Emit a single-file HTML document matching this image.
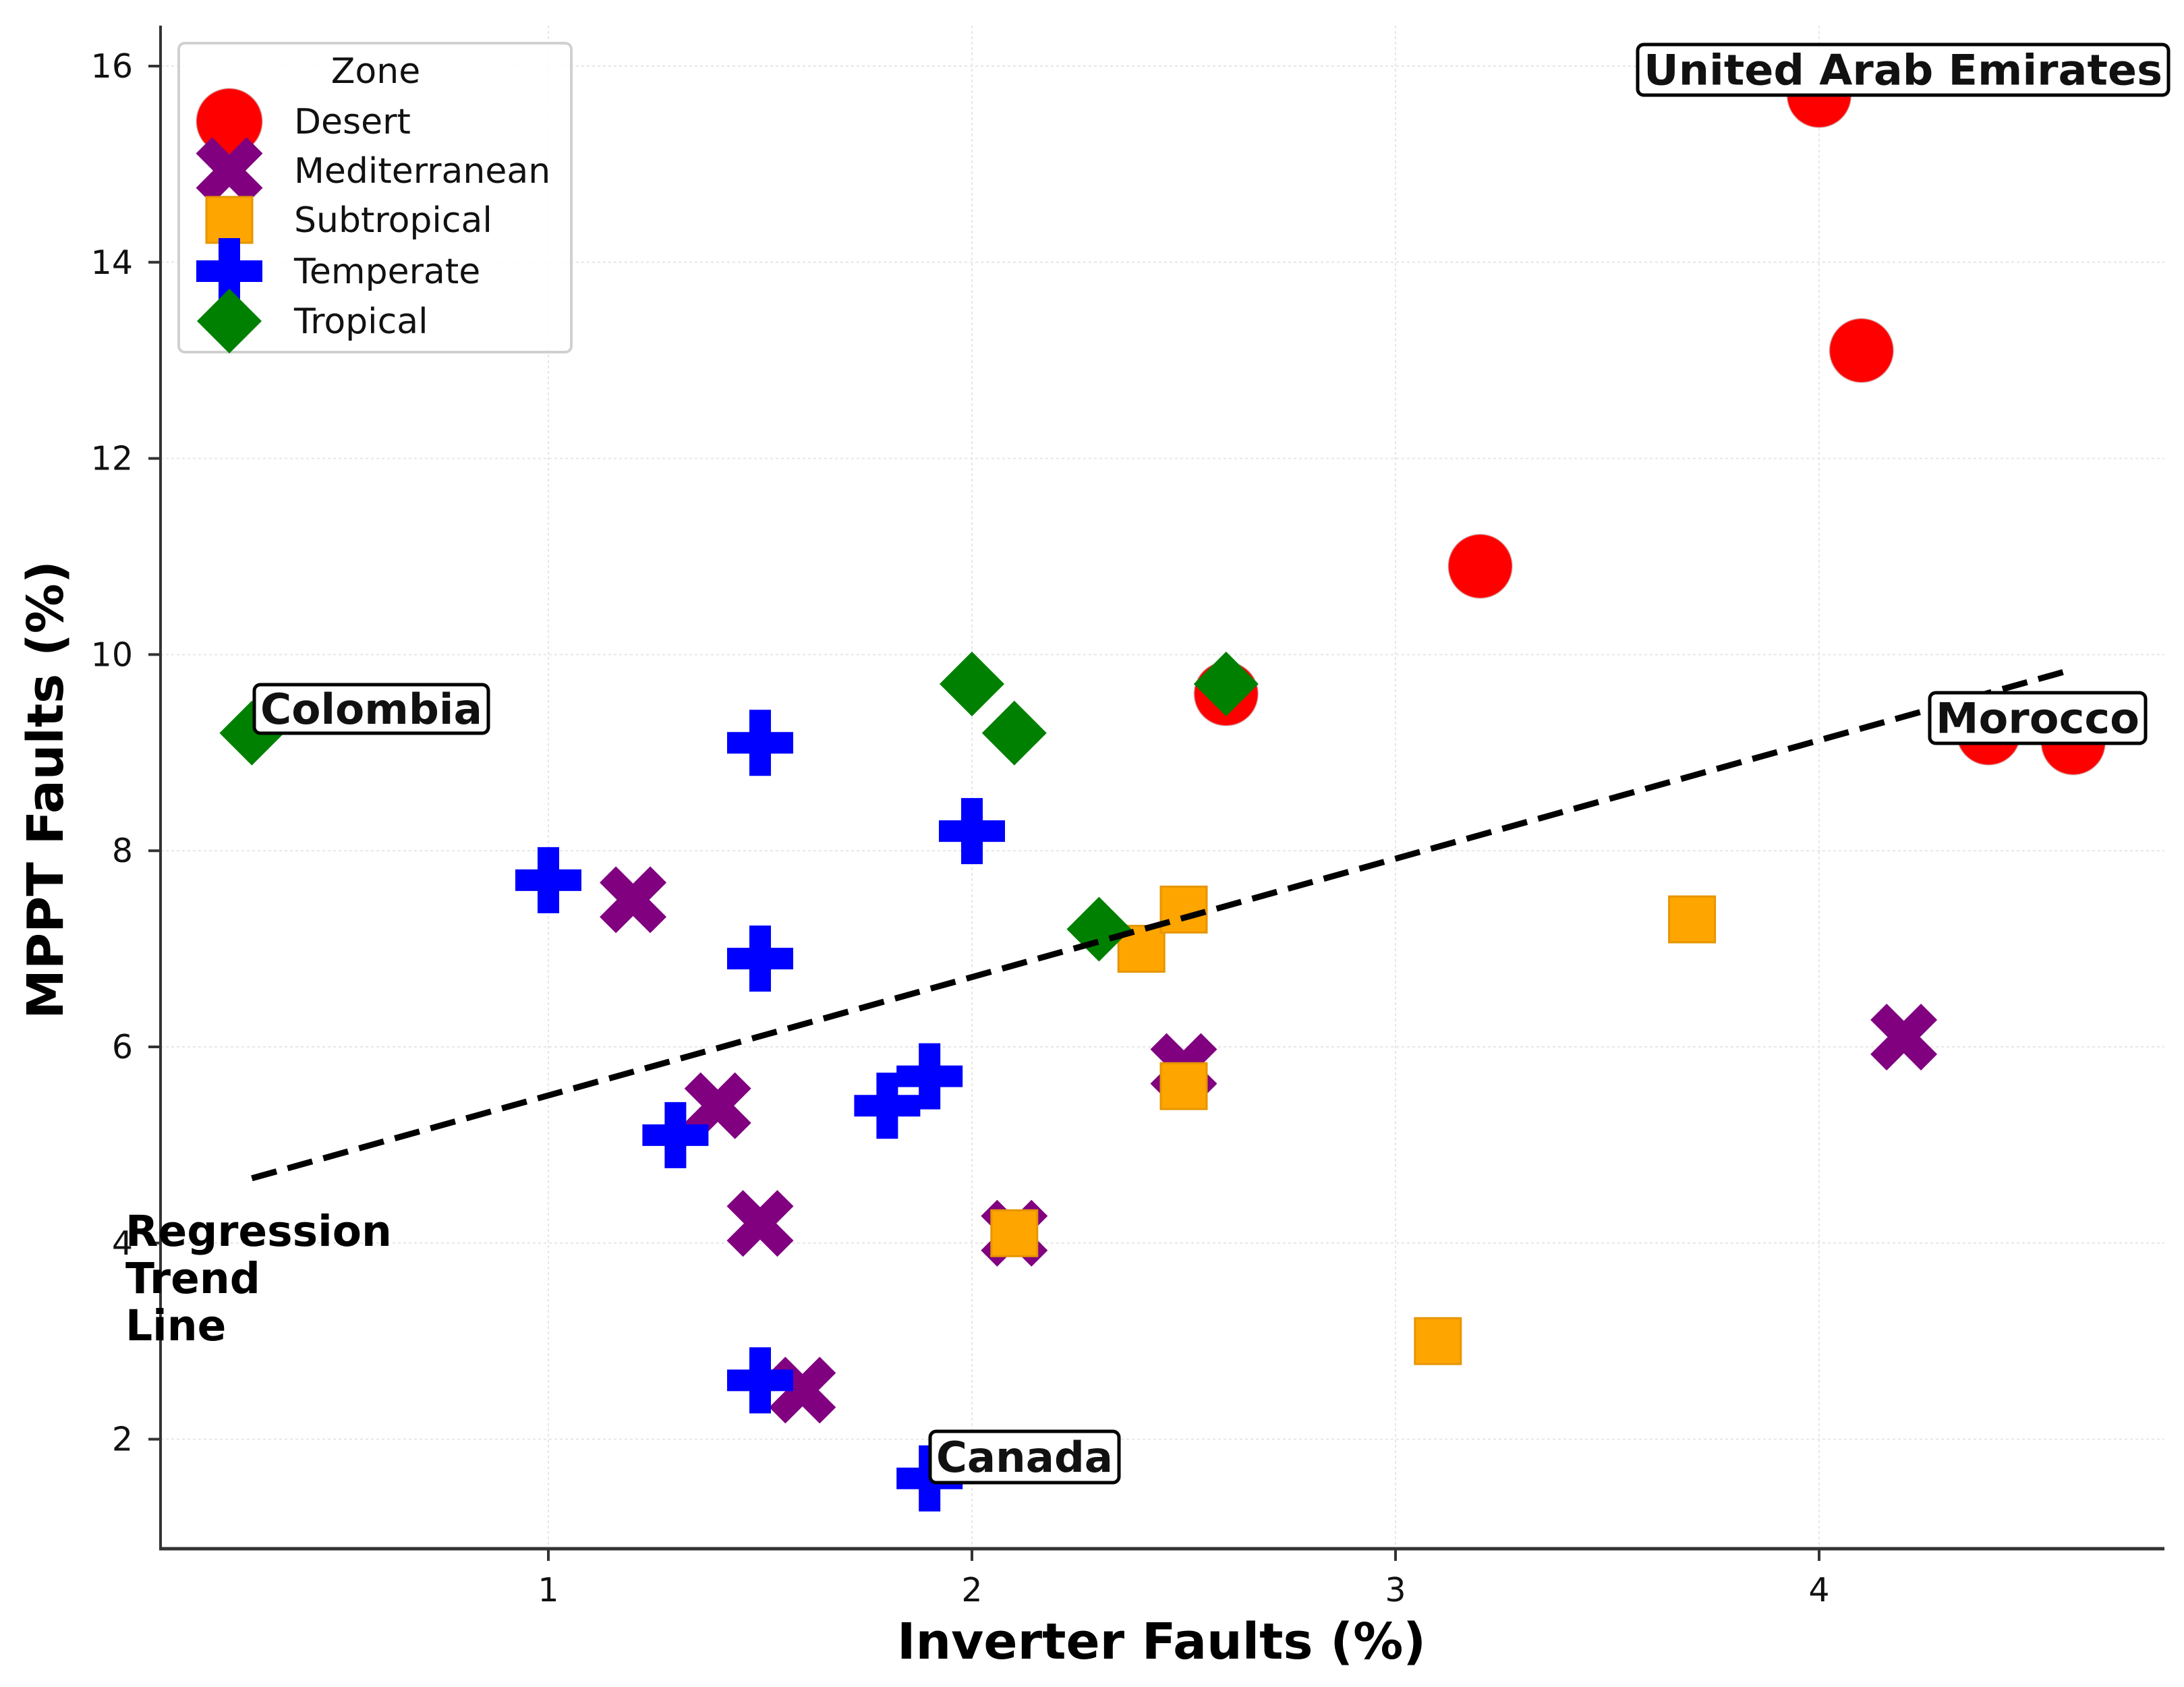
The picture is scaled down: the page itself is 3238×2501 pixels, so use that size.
<!DOCTYPE html>
<html><head><meta charset="utf-8"><style>
html,body{margin:0;padding:0;background:#fff}
svg{display:block}
text{font-family:"DejaVu Sans","Liberation Sans",sans-serif}
</style></head><body>
<svg id="chart" xmlns="http://www.w3.org/2000/svg" width="3238" height="2501" viewBox="0 0 3238 2501">
<rect width="3238" height="2501" fill="#fff"/>
<g id="grid"></g>
<g id="marks"></g>
<g id="axes"></g>
<g id="annots"></g>
<g id="legend"></g>
</svg>
<script>
const xTicks = [1, 2, 3, 4];
const yTicks = [2, 4, 6, 8, 10, 12, 14, 16];
const desertX = [4.0, 4.1, 3.2, 2.6, 4.4, 4.6];
const desertY = [15.7, 13.1, 10.9, 9.6, 9.2, 9.1];
const medX = [1.2, 1.4, 1.5, 1.6, 2.1, 2.5, 4.2];
const medY = [7.5, 5.4, 4.2, 2.5, 4.1, 5.8, 6.1];
const subX = [2.4, 2.5, 2.5, 2.1, 3.1, 3.7];
const subY = [7.0, 7.4, 5.6, 4.1, 3.0, 7.3];
const tempX = [1.0, 1.5, 1.5, 2.0, 1.3, 1.8, 1.9, 1.5, 1.9];
const tempY = [7.7, 9.1, 6.9, 8.2, 5.1, 5.4, 5.7, 2.6, 1.6];
const tropX = [0.3, 2.0, 2.1, 2.6, 2.3];
const tropY = [9.2, 9.7, 9.2, 9.7, 7.2];
const trendX = [0.3, 4.6];
const trendY = [4.66, 9.85];
const zoneNames = ["Desert", "Mediterranean", "Subtropical", "Temperate", "Tropical"];

const NS = "http://www.w3.org/2000/svg";
const L = 238, B = 2296, T = 38, R = 3209;
function X(v){ return 185 + 628 * v; }
function Y(v){ return 98 + (16 - v) * 145.4; }
function mk(tag, attrs, parent){
  const e = document.createElementNS(NS, tag);
  for (const k in attrs) e.setAttribute(k, attrs[k]);
  parent.appendChild(e);
  return e;
}
const grid = document.getElementById('grid');
const marks = document.getElementById('marks');
const axes = document.getElementById('axes');
const annots = document.getElementById('annots');
const legend = document.getElementById('legend');

xTicks.forEach(t => {
  const g = mk('line', {x1:X(t), x2:X(t), y1:T, y2:B, stroke:'#e6e6e6', 'stroke-width':2, 'stroke-dasharray':'4,4'}, grid);
  
  
});
yTicks.forEach(t => {
  const g = mk('line', {x1:L, x2:R, y1:Y(t), y2:Y(t), stroke:'#e6e6e6', 'stroke-width':2, 'stroke-dasharray':'4,4'}, grid);
  
  
});

function circle(cx, cy, s, fill, p){ return mk('circle', {cx:cx, cy:cy, r:s/2, fill:fill, stroke:'rgba(200,200,200,0.5)', 'stroke-width':2}, p); }
function square(cx, cy, s, fill, p){ return mk('rect', {x:cx-s/2, y:cy-s/2, width:s, height:s, fill:fill, stroke:'#e69500', 'stroke-width':3}, p); }
function plusPath(cx, cy, len, w){
  return `M${cx-w},${cy-len} H${cx+w} V${cy-w} H${cx+len} V${cy+w} H${cx+w} V${cy+len} H${cx-w} V${cy+w} H${cx-len} V${cy-w} H${cx-w} Z`;
}
function plus(cx, cy, fill, p){ return mk('path', {d:plusPath(cx, cy, 49, 16), fill:fill}, p); }
function xmark(cx, cy, fill, p){ return mk('path', {d:plusPath(cx, cy, 53, 17), fill:fill, transform:`rotate(45 ${cx} ${cy})`}, p); }
function diamond(cx, cy, s, fill, p){ const h = s/2; return mk('path', {d:`M${cx},${cy-h} L${cx+h},${cy} L${cx},${cy+h} L${cx-h},${cy} Z`, fill:fill}, p); }

desertX.forEach((v,i) => { const e = circle(X(v), Y(desertY[i]), 95, '#ff0000', marks);
  
   });
medX.forEach((v,i) => { const e = xmark(X(v), Y(medY[i]), '#800080', marks);
  
   });
subX.forEach((v,i) => { const e = square(X(v), Y(subY[i]), 68, '#ffa500', marks);
  
   });
tempX.forEach((v,i) => { const e = plus(X(v), Y(tempY[i]), '#0000ff', marks);
  
   });
tropX.forEach((v,i) => { const e = diamond(X(v), Y(tropY[i]), 96, '#008000', marks);
  
   });

const tl = mk('line', {x1:X(trendX[0]), y1:Y(trendY[0]), x2:X(trendX[1]), y2:Y(trendY[1]), stroke:'#000', 'stroke-width':9, 'stroke-dasharray':'38,17'}, marks);



// axes
const ls = mk('line', {x1:L, x2:L, y1:T, y2:B+2, stroke:'#333', 'stroke-width':4}, axes);


const bs = mk('line', {x1:L-2, x2:R, y1:B, y2:B, stroke:'#333', 'stroke-width':5}, axes);


xTicks.forEach(t => {
  const tk = mk('line', {x1:X(t), x2:X(t), y1:B, y2:B+18, stroke:'#333', 'stroke-width':4}, axes);
  
  
  const lb = mk('text', {x:X(t), y:2374, 'text-anchor':'middle', 'font-size':49, fill:'#111'}, axes);
  lb.textContent = t;
  
  
});
yTicks.forEach(t => {
  const tk = mk('line', {x1:L-18, x2:L, y1:Y(t), y2:Y(t), stroke:'#333', 'stroke-width':4}, axes);
  
  
  const lb = mk('text', {x:197, y:Y(t)+17, 'text-anchor':'end', 'font-size':49, fill:'#111'}, axes);
  lb.textContent = t;
  
  
});
const xt = mk('text', {x:1722, y:2459, 'text-anchor':'middle', 'font-size':74, 'font-weight':'bold', fill:'#000'}, axes);
xt.textContent = 'Inverter Faults (%)';


const yt = mk('text', {x:0, y:0, 'text-anchor':'middle', 'font-size':74, 'font-weight':'bold', fill:'#000', transform:'translate(93,1171) rotate(-90)'}, axes);
yt.textContent = 'MPPT Faults (%)';



// annotations
function boxLabel(txt, x1, y1, x2, y2, name){
  const r = mk('rect', {x:x1, y:y1, width:x2-x1, height:y2-y1, rx:9, fill:'#fff', stroke:'#000', 'stroke-width':5}, annots);
  
  
  const t = mk('text', {x:(x1+x2)/2, y:(y1+y2)/2+22, 'text-anchor':'middle', 'font-size':62, 'font-weight':'bold', fill:'#111', textLength:(x2-x1-18), lengthAdjust:'spacingAndGlyphs'}, annots);
  t.textContent = txt;
  
  
}
boxLabel('United Arab Emirates', 2428, 66, 3215, 141, 'label-uae');
boxLabel('Colombia', 377, 1015, 724, 1087, 'label-colombia');
boxLabel('Morocco', 2861, 1027, 3181, 1102, 'label-morocco');
boxLabel('Canada', 1379, 2122, 1659, 2198, 'label-canada');
['Regression','Trend','Line'].forEach((w,i) => {
  const t = mk('text', {x:186, y:1847+i*70, 'font-size':63, 'font-weight':'bold', fill:'#000'}, annots);
  t.textContent = w;
  
  
});

// legend
const lf = mk('rect', {x:265, y:64, width:582, height:458, rx:9, fill:'rgba(255,255,255,0.85)', stroke:'#d0d0d0', 'stroke-width':4}, legend);


const lt = mk('text', {x:557, y:123, 'text-anchor':'middle', 'font-size':52, fill:'#111'}, legend);
lt.textContent = 'Zone';


const ly = [180, 253, 326, 402, 476];
const lm = [
  (y) => circle(340, y, 98, '#ff0000', legend),
  (y) => xmark(340, y, '#800080', legend),
  (y) => square(340, y, 68, '#ffa500', legend),
  (y) => plus(340, y, '#0000ff', legend),
  (y) => diamond(340, y, 96, '#008000', legend)
];
zoneNames.forEach((n,i) => {
  const m = lm[i](ly[i]);
  
  
  const t = mk('text', {x:436, y:ly[i]+18, 'font-size':52, fill:'#111'}, legend);
  t.textContent = n;
  
  
});
</script>
</body></html>
